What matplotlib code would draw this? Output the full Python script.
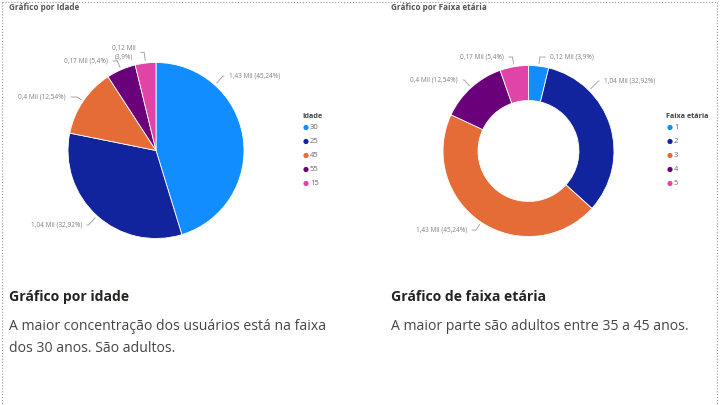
import matplotlib.pyplot as plt
import numpy as np

# dados
idade_cats = ['30', '25', '45', '55', '15']
idade_vals = [1.43, 1.04, 0.40, 0.17, 0.12]
idade_pct = [45.24, 32.92, 12.54, 5.4, 3.9]

faixa_cats = ['1', '2', '3', '4', '5']
faixa_vals = [0.12, 1.04, 1.43, 0.40, 0.17]
faixa_pct = [3.9, 32.92, 45.24, 12.54, 5.4]

cores_idade = ['#118DFF', '#12239E', '#E66C37', '#6B007B', '#E044A7']
cores_faixa = ['#118DFF', '#12239E', '#E66C37', '#6B007B', '#E044A7']

plt.rcParams['font.family'] = ['Open Sans', 'DejaVu Sans']

W, H = 720, 405
fig = plt.figure(figsize=(7.2, 4.05), dpi=100)
bg = fig.add_axes([0, 0, 1, 1])
bg.set_xlim(0, W)
bg.set_ylim(H, 0)
bg.axis('off')


def fmt(v, p):
    vs = ('%g' % v).replace('.', ',')
    ps = ('%g' % p).replace('.', ',')
    return vs + ' Mil (' + ps + '%)'


def draw_pie(cx, cy, r, vals, pct, cores, hole, labpos, override):
    ax = fig.add_axes([(cx - r) / W, (H - cy - r) / H, 2 * r / W, 2 * r / H])
    wp = dict(linewidth=0.6, edgecolor='white')
    if hole:
        wp['width'] = 1 - hole
    wedges, _ = ax.pie(vals, colors=cores, startangle=90, counterclock=False,
                       radius=1, wedgeprops=wp)
    ax.set_xlim(-1, 1)
    ax.set_ylim(-1, 1)
    ax.axis('off')
    for i, w in enumerate(wedges):
        ang = override.get(i, (w.theta1 + w.theta2) / 2)
        a = np.deg2rad(ang)
        px = cx + r * 1.03 * np.cos(a)
        py = cy - r * 1.03 * np.sin(a)
        tx, ty, ha, txt = labpos[i]
        if txt is None:
            txt = fmt(vals[i], pct[i])
        bg.annotate(txt, xy=(px, py), xytext=(tx, ty), ha=ha, va='center',
                    fontsize=4.7, color='#808080', multialignment='center',
                    arrowprops=dict(arrowstyle='-', color='#999999', lw=0.6,
                                    shrinkA=1.5, shrinkB=0,
                                    connectionstyle='angle,angleA=0,angleB=%g,rad=0' % ang))


# grafico por idade
draw_pie(156, 150.5, 88, idade_vals, idade_pct, cores_idade, None,
         [(229, 76, 'left', None),
          (82, 225, 'right', None),
          (66, 97, 'right', None),
          (108, 61, 'right', None),
          (124, 52.5, 'center', '0,12 Mil\n(3,9%)')],
         {0: 48})

# grafico por faixa etaria
draw_pie(528.5, 151, 85.5, faixa_vals, faixa_pct, cores_faixa, 0.59,
         [(550, 57, 'left', None),
          (604, 81, 'left', None),
          (467, 230, 'right', None),
          (458, 80, 'right', None),
          (504, 57, 'right', None)],
         {1: 45})


def legenda(x, y, titulo, cats, cores):
    bg.text(x - 4, y, titulo, fontsize=5.2, fontweight='bold', color='#444444', va='center')
    for i, (c, col) in enumerate(zip(cats, cores)):
        yy = y + 11.5 + i * 14
        bg.scatter([x], [yy], s=14, color=col, edgecolors='none')
        bg.text(x + 4, yy, c, fontsize=5.5, color='#666666', va='center')


legenda(306, 116, 'Idade', idade_cats, cores_idade)
legenda(670, 116, 'Faixa etária', faixa_cats, cores_faixa)

# titulos
bg.text(9, 7, 'Gráfico por Idade', fontsize=5.9, fontweight='bold', color='#555555', va='center')
bg.text(391, 7, 'Gráfico por Faixa etária', fontsize=5.9, fontweight='bold', color='#555555', va='center')

bg.text(9, 297, 'Gráfico por idade', fontsize=10.1, fontweight='bold', color='#252423', va='center')
bg.text(9, 327, 'A maior concentração dos usuários está na faixa', fontsize=10.1, color='#444444', va='center')
bg.text(9, 348, 'dos 30 anos. São adultos.', fontsize=10.1, color='#444444', va='center')
bg.text(391, 297, 'Gráfico de faixa etária', fontsize=10.1, fontweight='bold', color='#252423', va='center')
bg.text(391, 327, 'A maior parte são adultos entre 35 a 45 anos.', fontsize=10.1, color='#444444', va='center')

# bordas pontilhadas
bg.plot([2, 2], [1.5, H], ls=':', color='#999999', lw=0.8)
bg.plot([717, 717], [1.5, H], ls=':', color='#999999', lw=0.8)
bg.plot([2, 717], [1.5, 1.5], ls=':', color='#999999', lw=0.8)

fig.savefig('out.png', dpi=100)
